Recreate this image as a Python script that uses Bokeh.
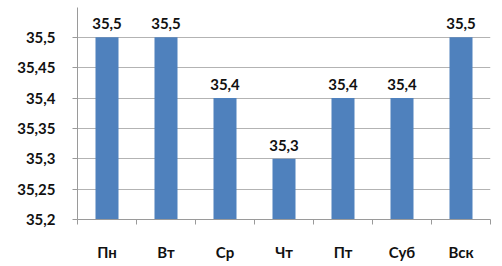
from bokeh.plotting import figure
from bokeh.models import ColumnDataSource, FixedTicker, Range1d, LabelSet
from bokeh.core.properties import value
from bokeh.embed import file_html
from bokeh.resources import INLINE

days = ["Пн", "Вт", "Ср", "Чт", "Пт", "Суб", "Вск"]
values = [35.5, 35.5, 35.4, 35.3, 35.4, 35.4, 35.5]
value_labels = ["35,5", "35,5", "35,4", "35,3", "35,4", "35,4", "35,5"]
y_ticks = [35.2, 35.25, 35.3, 35.35, 35.4, 35.45, 35.5]
y_tick_labels = ["35,2", "35,25", "35,3", "35,35", "35,4", "35,45", "35,5"]

FONT = "Lato"
n = len(days)
centers = [i + 0.5 for i in range(n)]
bounds = [float(i) for i in range(n + 1)]

src = ColumnDataSource(dict(x=centers, top=values, lab=value_labels))

p = figure(width=502, height=266, output_backend="svg", toolbar_location=None,
           x_range=Range1d(0, n), y_range=Range1d(35.2, 35.549),
           min_border_left=77, min_border_right=12, min_border_top=7, min_border_bottom=47)
p.outline_line_color = None
p.background_fill_color = "white"

p.vbar(x="x", top="top", bottom=35.2, width=0.39, source=src,
       fill_color="#4f81bd", line_color=None)

labels = LabelSet(x="x", y="top", text="lab", source=src, text_align="center",
                  text_baseline="bottom", y_offset=8, text_font=value(FONT),
                  text_font_style="bold", text_font_size="15px", text_color="#111111")
p.add_layout(labels)

# y axis
p.yaxis.ticker = FixedTicker(ticks=y_ticks)
p.yaxis.major_label_overrides = {t: l for t, l in zip(y_ticks, y_tick_labels)}
p.yaxis.major_tick_out = 5
p.yaxis.major_tick_in = 0
p.yaxis.minor_tick_out = 0
p.yaxis.minor_tick_in = 0
p.yaxis.axis_line_color = "#9a9a9a"
p.yaxis.major_tick_line_color = "#9a9a9a"
p.yaxis.major_label_text_font = FONT
p.yaxis.major_label_text_font_style = "bold"
p.yaxis.major_label_text_font_size = "15px"
p.yaxis.major_label_text_color = "#111111"
p.yaxis.major_label_standoff = 17

# x axis
p.xaxis.ticker = FixedTicker(ticks=centers, minor_ticks=bounds)
p.xaxis.major_label_overrides = {c: d for c, d in zip(centers, days)}
p.xaxis.major_tick_out = 0
p.xaxis.major_tick_in = 0
p.xaxis.minor_tick_out = 5
p.xaxis.minor_tick_in = 0
p.xaxis.minor_tick_line_color = "#9a9a9a"
p.xaxis.axis_line_color = "#9a9a9a"
p.xaxis.major_label_text_font = FONT
p.xaxis.major_label_text_font_style = "bold"
p.xaxis.major_label_text_font_size = "15px"
p.xaxis.major_label_text_color = "#111111"
p.xaxis.major_label_standoff = 18

p.xgrid.grid_line_color = None
p.ygrid.grid_line_color = "#b3b3b3"
p.ygrid.grid_line_width = 1

open("out.html", "w").write(file_html(p, INLINE))
